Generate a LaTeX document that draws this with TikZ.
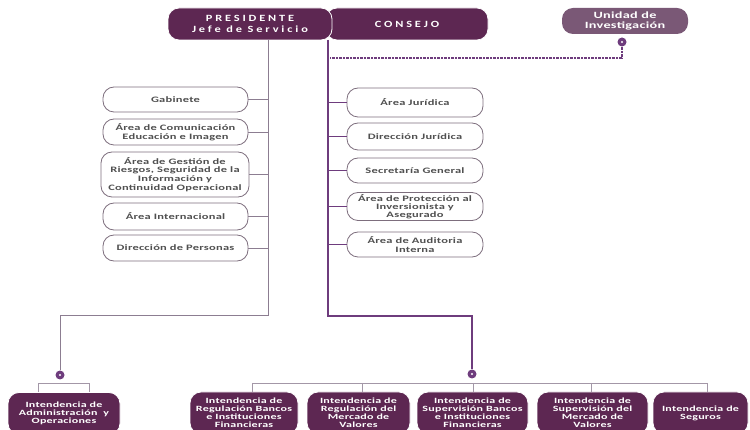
\documentclass[tikz,border=0pt]{standalone}
\usepackage{fontspec}
\setmainfont{Carlito}[FakeStretch=1.5,LetterSpace=3]
\newfontfamily\wide{Carlito}[FakeStretch=1.3,LetterSpace=30]
\usepackage{tikz}
\usetikzlibrary{calc}
\definecolor{plum}{RGB}{93,39,82}
\definecolor{plumlight}{RGB}{122,88,118}
\definecolor{plumline}{RGB}{110,60,125}
\definecolor{greyline}{RGB}{140,125,145}
\definecolor{boxedge}{RGB}{125,110,125}
\definecolor{boxtext}{RGB}{80,80,80}

\begin{document}
\begin{tikzpicture}[x=1pt,y=-1pt,
  wbox/.style={draw=boxedge,line width=0.8pt,fill=white,rounded corners=11pt,inner sep=0pt,align=center,text=boxtext,font=\bfseries\fontsize{8.3}{8.8}\selectfont},
  dbox/.style={draw=white,line width=0.8pt,fill=plum,rounded corners=11pt,inner sep=0pt,align=center,text=white,font=\bfseries\fontsize{8}{8.1}\selectfont},
  dot/.style={circle,fill=plumline,minimum size=9pt,inner sep=0pt},
  gline/.style={draw=greyline,line width=0.9pt},
  pline/.style={draw=plumline,line width=1.4pt},
  dline/.style={draw=plumline,line width=2pt,dash pattern=on 0.7pt off 0.7pt},
  bline/.style={draw=greyline!80,line width=0.8pt}]

\clip (0,0) rectangle (750,430);
\useasboundingbox (0,0) rectangle (750,430);

\node[dbox,minimum width=162,minimum height=32,font=\bfseries\fontsize{9.5}{11}\selectfont] (cons) at (407,24) {\wide CONSEJO};
\node[dbox,minimum width=164,minimum height=32,font=\bfseries\fontsize{9.5}{11}\selectfont] (pres) at (250,24) {\wide PRESIDENTE\\\wide Jefe de Servicio};
\node[dbox,fill=plumlight,draw=none,minimum width=126,minimum height=26,font=\bfseries\fontsize{9.5}{10.5}\selectfont] (uni) at (625,21) {Unidad de\\Investigación};
\node[dot] (dotU) at (622,42) {};

\node[wbox,minimum width=145,minimum height=25] (gab) at (175.5,99.5) {Gabinete};
\node[wbox,minimum width=145,minimum height=26] (com) at (175.5,132) {Área de Comunicación\\Educación e Imagen};
\node[wbox,minimum width=148,minimum height=45] (ges) at (175,174.5) {Área de Gestión de\\Riesgos, Seguridad de la\\Información y\\Continuidad Operacional};
\node[wbox,minimum width=145,minimum height=27] (int) at (175.5,216.5) {Área Internacional};
\node[wbox,minimum width=145,minimum height=26] (per) at (175.5,248) {Dirección de Personas};

\node[wbox,minimum width=136,minimum height=29] (jur) at (415,102.5) {Área Jurídica};
\node[wbox,minimum width=136,minimum height=27] (djur) at (415,136.5) {Dirección Jurídica};
\node[wbox,minimum width=136,minimum height=25] (sec) at (415,170.5) {Secretaría General};
\node[wbox,minimum width=136,minimum height=28,font=\bfseries\fontsize{8.3}{8}\selectfont] (prot) at (415,206.5) {Área de Protección al\\Inversionista y\\Asegurado};
\node[wbox,minimum width=136,minimum height=25] (aud) at (415,244.5) {Área de Auditoria\\Interna};

\node[dot] (dotA) at (60,375) {};
\node[dot] (dotB) at (472,374) {};

\node[dbox,minimum width=112,minimum height=42] (adm) at (64,413.5) {Intendencia de\\Administración\ \ y\\Operaciones};
\node[dbox,minimum width=108,minimum height=42] (rb) at (244,413) {Intendencia de\\Regulación Bancos\\e Instituciones\\Financieras};
\node[dbox,minimum width=103,minimum height=42] (rm) at (358.5,413) {Intendencia de\\Regulación del\\Mercado de\\Valores};
\node[dbox,minimum width=111,minimum height=42] (sb) at (472.5,413) {Intendencia de\\Supervisión Bancos\\e Instituciones\\Financieras};
\node[dbox,minimum width=111,minimum height=42] (sm) at (592.5,413) {Intendencia de\\Supervisión del\\Mercado de\\Valores};
\node[dbox,minimum width=95,minimum height=42] (seg) at (700.5,413) {Intendencia de\\Seguros};

\coordinate (pTop) at (268,40);
\coordinate (pBend) at (268,315);
\coordinate (cTop) at (328,40);
\coordinate (cBend) at (328,316);
\coordinate (uEnd) at (330,58);
\coordinate (b1) at (38,383);
\coordinate (b2) at (89,383);

\draw[gline] (pTop) -- (pBend) -| (dotA.north);
\foreach \n in {gab,com,ges,int,per}
  \draw[gline] (\n.east) -- (\n.east -| pTop);

\draw[pline] (cTop) -- (cBend) -| (dotB.north);
\foreach \n in {jur,djur,sec,prot,aud}
  \draw[pline] (\n.west) -- (\n.west -| cTop);

\draw[dline] (dotU.south) |- (uEnd);
\fill[white] (dotU) circle (1.2pt);
\fill[white] (dotA) circle (1.2pt);
\fill[white] (dotB) circle (1.2pt);

\draw[bline] (b1 |- adm.north) -- (b1) -- (b2) -- (b2 |- adm.north);

\draw[bline] (252,383) -- (707,383);
\foreach \x/\n in {252/rb,362/rm,473/sb,591/sm,707/seg}{
  \coordinate (drop) at (\x,383);
  \draw[bline] (drop) -- (drop |- \n.north);
}

\end{tikzpicture}
\end{document}
